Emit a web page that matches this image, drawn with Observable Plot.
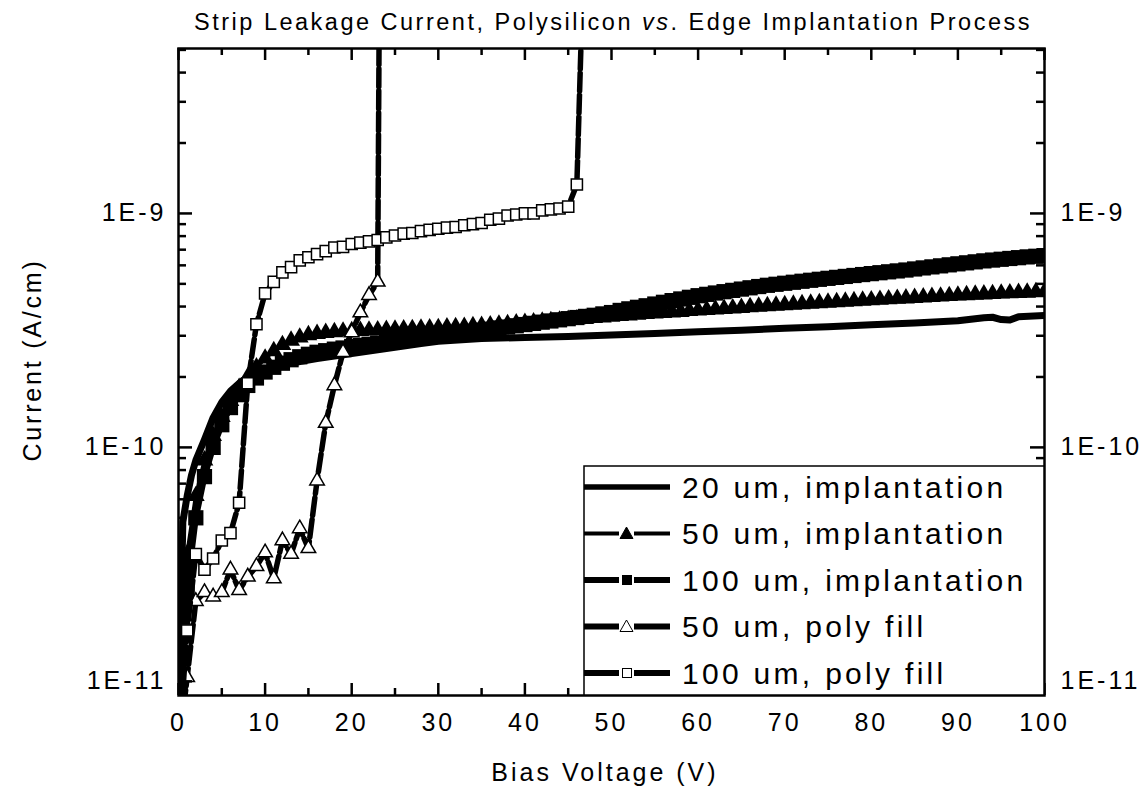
<!DOCTYPE html>
<html>
<head>
<meta charset="utf-8">
<script src="https://cdn.jsdelivr.net/npm/d3@7"></script>
<script src="https://cdn.jsdelivr.net/npm/@observablehq/plot@0.6"></script>
<style>
  html, body { margin: 0; padding: 0; background: #fff; }
  #wrap { position: relative; width: 1142px; height: 786px; overflow: hidden; background: #fff; }
  #chart svg text { letter-spacing: 3px; }
  #overlay { position: absolute; left: 0; top: 0; pointer-events: none; }
</style>
</head>
<body>
<div id="wrap">
  <div id="chart"></div>
  <svg id="overlay" width="1142" height="786"></svg>
</div>
<script>
// ---------------- data (current in units of 1E-10 A/cm) ----------------
const volts = [0,1,2,3,4,5,6,7,8,9,10,11,12,13,14,15,16,17,18,19,20,21,22,23,24,25,26,27,28,29,30,
  31,32,33,34,35,36,37,38,39,40,41,42,43,44,45,46,47,48,49,50,51,52,53,54,55,56,57,58,59,60,
  61,62,63,64,65,66,67,68,69,70,71,72,73,74,75,76,77,78,79,80,81,82,83,84,85,86,87,88,89,90,
  91,92,93,94,95,96,97,98,99,100];

const impl50Vals = [0.06,0.35,0.62,0.88,1.12,1.35,1.58,1.80,2.00,2.20,2.40,2.58,2.74,2.86,2.95,3.02,
  3.06,3.09,3.11,3.13,3.14,3.15,3.16,3.17,3.18,3.19,3.20,3.21,3.22,3.23,3.24,
  3.26,3.27,3.28,3.30,3.31,3.33,3.35,3.37,3.39,3.41,3.43,3.45,3.47,3.49,3.51,3.53,3.55,3.58,3.60,3.62,
  3.65,3.67,3.69,3.72,3.74,3.76,3.78,3.80,3.83,3.85,
  3.87,3.89,3.91,3.93,3.95,3.98,4.00,4.02,4.04,4.06,
  4.08,4.10,4.12,4.14,4.16,4.18,4.20,4.22,4.24,4.26,
  4.28,4.30,4.32,4.34,4.36,4.38,4.40,4.42,4.44,4.46,
  4.48,4.50,4.51,4.53,4.55,4.56,4.58,4.59,4.61,4.62];

const impl100Vals = [0.05,0.25,0.50,0.75,1.00,1.25,1.48,1.68,1.84,1.98,2.10,2.20,2.29,2.37,2.44,2.50,
  2.55,2.59,2.63,2.66,2.70,2.73,2.76,2.79,2.82,2.85,2.88,2.91,2.94,2.97,3.00,
  3.03,3.06,3.10,3.13,3.17,3.20,3.24,3.27,3.31,3.35,3.39,3.43,3.47,3.51,3.55,3.59,3.63,3.67,3.72,3.77,
  3.85,3.91,3.97,4.03,4.10,4.17,4.24,4.31,4.38,4.45,
  4.51,4.57,4.63,4.69,4.75,4.81,4.87,4.93,4.98,5.03,
  5.08,5.13,5.18,5.23,5.28,5.33,5.38,5.43,5.48,5.53,
  5.58,5.63,5.68,5.73,5.79,5.85,5.91,5.97,6.03,6.09,
  6.15,6.21,6.27,6.32,6.37,6.42,6.47,6.52,6.56,6.60];

const impl20Volts = [0,0.5,1,1.5,2,3,4,5,6,7,8,9,10,12,14,16,18,20,22,25,28,30,35,40,45,50,55,60,65,70,75,80,85,90,92,93,94,95,96,97,100];
const impl20Vals  = [0.06,0.48,0.62,0.76,0.88,1.08,1.34,1.56,1.74,1.88,2.00,2.08,2.15,2.25,2.33,2.40,2.46,2.52,2.58,2.68,2.78,2.84,2.92,2.95,2.98,3.02,3.07,3.12,3.17,3.23,3.28,3.34,3.40,3.48,3.55,3.58,3.60,3.52,3.50,3.62,3.66];

const poly50Volts = [0,1,2,3,4,5,6,7,8,9,10,11,12,13,14,15,16,17,18,19,20,21,22,23,23.2];
const poly50Vals  = [0.05,0.104,0.22,0.24,0.23,0.24,0.30,0.245,0.28,0.31,0.355,0.275,0.40,0.35,0.45,0.37,0.72,1.27,1.84,2.55,3.10,3.77,4.47,5.10,100];

const poly100Volts = [0,1,2,3,4,5,6,7,8,9,10,11,12,13,14,15,16,17,18,19,20,21,22,23,24,25,26,27,28,29,30,
  31,32,33,34,35,36,37,38,39,40,41,42,43,44,45,46,46.7];
const poly100Vals  = [0.05,0.165,0.35,0.30,0.335,0.40,0.43,0.58,1.88,3.36,4.55,5.10,5.60,5.90,6.30,6.50,6.70,6.90,7.15,7.20,7.40,
  7.50,7.60,7.70,7.90,8.05,8.20,8.25,8.40,8.50,8.60,8.70,8.75,8.90,9.00,9.10,9.40,9.50,9.80,9.90,10.0,
  10.0,10.3,10.4,10.5,10.7,13.3,100];

const seriesNames = ["20 um, implantation", "50 um, implantation", "100 um, implantation", "50 um, poly fill", "100 um, poly fill"];

const xTicksMajor = [0,10,20,30,40,50,60,70,80,90,100];
const xTicksMinor = [5,15,25,35,45,55,65,75,85,95];
const yTicksMajor = [1e-11, 1e-10, 1e-9];
const yTickLabels = ["1E-11", "1E-10", "1E-9"];
const yTicksMinor = [9e-12, 2e-11,3e-11,4e-11,5e-11,6e-11,7e-11,8e-11,9e-11,
  2e-10,3e-10,4e-10,5e-10,6e-10,7e-10,8e-10,9e-10, 2e-9,3e-9,4e-9,5e-9];

const titleParts = [["Strip Leakage Current, Polysilicon ", false], ["vs", true], [". Edge Implantation Process", false]];
const xLabel = "Bias Voltage (V)";
const yLabel = "Current (A/cm)";

// ---------------- build ----------------
const rows = (vs, cs) => vs.map((v, i) => ({v, c: cs[i] * 1e-10}));
const impl20 = rows(impl20Volts, impl20Vals);
const impl50 = rows(volts, impl50Vals);
const impl100 = rows(volts, impl100Vals);
const poly50 = rows(poly50Volts, poly50Vals);
const poly100 = rows(poly100Volts, poly100Vals);

const W = 1142, H = 786, mL = 178, mR = 98, mT = 48, mB = 91;
const FW = W - mL - mR, FH = H - mT - mB;
const font = "'Liberation Sans', Arial, Helvetica, sans-serif";

const chart = Plot.plot({
  width: W, height: H,
  marginLeft: mL, marginRight: mR, marginTop: mT, marginBottom: mB,
  style: {fontFamily: font, background: "white", color: "black"},
  x: {domain: [0, 100]},
  y: {type: "log", domain: [8.7e-12, 5.07e-9]},
  marks: [
    // data
    Plot.line(impl100, {x: "v", y: "c", stroke: "black", strokeWidth: 6, clip: true}),
    Plot.dot(impl100, {x: "v", y: "c", symbol: "square", r: 8.6, fill: "black", clip: true}),
    Plot.line(impl50, {x: "v", y: "c", stroke: "black", strokeWidth: 4, clip: true}),
    Plot.dot(impl50, {x: "v", y: "c", symbol: "triangle", r: 6.6, fill: "black", clip: true}),
    Plot.line(impl20, {x: "v", y: "c", stroke: "black", strokeWidth: 7, clip: true}),
    Plot.line(poly50, {x: "v", y: "c", stroke: "black", strokeWidth: 5.5, strokeDasharray: "18,4", clip: true}),
    Plot.dot(poly50, {x: "v", y: "c", symbol: "triangle", r: 5.4, fill: "white", stroke: "black", strokeWidth: 1.5, clip: true}),
    Plot.line(poly100, {x: "v", y: "c", stroke: "black", strokeWidth: 5.5, strokeDasharray: "18,4", clip: true}),
    Plot.dot(poly100, {x: "v", y: "c", symbol: "square", r: 6.3, fill: "white", stroke: "black", strokeWidth: 1.5, clip: true}),
    // inward ticks
    Plot.tickX(xTicksMajor, {x: d => d, insetBottom: FH - 12, strokeWidth: 2.5}),
    Plot.tickX(xTicksMajor, {x: d => d, insetTop: FH - 12, strokeWidth: 2.5}),
    Plot.tickX(xTicksMinor, {x: d => d, insetBottom: FH - 7, strokeWidth: 2.5}),
    Plot.tickX(xTicksMinor, {x: d => d, insetTop: FH - 7, strokeWidth: 2.5}),
    Plot.tickY(yTicksMajor, {y: d => d, insetRight: FW - 14, strokeWidth: 2.5}),
    Plot.tickY(yTicksMajor, {y: d => d, insetLeft: FW - 14, strokeWidth: 2.5}),
    Plot.tickY(yTicksMinor, {y: d => d, insetRight: FW - 8, strokeWidth: 2.5}),
    Plot.tickY(yTicksMinor, {y: d => d, insetLeft: FW - 8, strokeWidth: 2.5}),
    // axes labels
    Plot.axisX({ticks: xTicksMajor, tickSize: 0, tickPadding: 18, fontSize: 25, label: null, tickFormat: d => String(d)}),
    Plot.axisY({anchor: "left", ticks: yTicksMajor, tickSize: 0, tickPadding: 12, fontSize: 25, label: null,
      tickFormat: d => yTickLabels[yTicksMajor.indexOf(d)]}),
    Plot.axisY({anchor: "right", ticks: yTicksMajor, tickSize: 0, tickPadding: 16, fontSize: 25, label: null,
      tickFormat: d => yTickLabels[yTicksMajor.indexOf(d)]}),
    Plot.frame({stroke: "black", strokeWidth: 2.5})
  ]
});
document.getElementById("chart").appendChild(chart);

// ---------------- overlay: title, axis titles, legend ----------------
const ov = d3.select("#overlay").style("font-family", font);

const t = ov.append("text").attr("x", 613).attr("y", 30).attr("text-anchor", "middle")
  .attr("font-size", 23.5).style("letter-spacing", "2.5px").attr("fill", "black");
titleParts.forEach(([s, it]) => t.append("tspan").text(s).attr("font-style", it ? "italic" : "normal"));

ov.append("text").attr("x", 605).attr("y", 781).attr("text-anchor", "middle")
  .attr("font-size", 25).style("letter-spacing", "3px").text(xLabel);

ov.append("text").attr("transform", "translate(41,360) rotate(-90)").attr("text-anchor", "middle")
  .attr("font-size", 25).style("letter-spacing", "2.8px").text(yLabel);

const L = {x: 584, y: 466, w: W - mR - 584, h: H - mB - 466};
const lg = ov.append("g").attr("transform", `translate(${L.x},${L.y})`);
lg.append("rect").attr("width", L.w).attr("height", L.h).attr("fill", "white").attr("stroke", "black").attr("stroke-width", 1.5);

const kinds = [
  {marker: null, w: 5.5},
  {marker: "tri", fill: "black", w: 4},
  {marker: "sq", fill: "black", w: 6},
  {marker: "tri", fill: "white", w: 6},
  {marker: "sq", fill: "white", w: 6}
];
seriesNames.forEach((name, i) => {
  const cy = 21 + i * 46.5;
  const k = kinds[i];
  const g = lg.append("g").attr("transform", `translate(0,${cy})`);
  if (!k.marker) {
    g.append("line").attr("x1", 0).attr("x2", 86).attr("stroke", "black").attr("stroke-width", k.w);
  } else {
    g.append("line").attr("x1", 0).attr("x2", 35).attr("stroke", "black").attr("stroke-width", k.w);
    g.append("line").attr("x1", 50).attr("x2", 86).attr("stroke", "black").attr("stroke-width", k.w);
    if (k.marker === "tri") {
      g.append("path").attr("d", "M42.5,-6.5L49,5L36,5Z").attr("fill", k.fill).attr("stroke", "black").attr("stroke-width", 1);
    } else {
      g.append("rect").attr("x", 38.5).attr("y", -4.5).attr("width", 9).attr("height", 9)
        .attr("fill", k.fill).attr("stroke", "black").attr("stroke-width", 1);
    }
  }
  g.append("text").attr("x", 98).attr("y", 0).attr("dy", "0.36em").attr("font-size", 30)
    .style("letter-spacing", "3.3px").text(name);
});
</script>
</body>
</html>
